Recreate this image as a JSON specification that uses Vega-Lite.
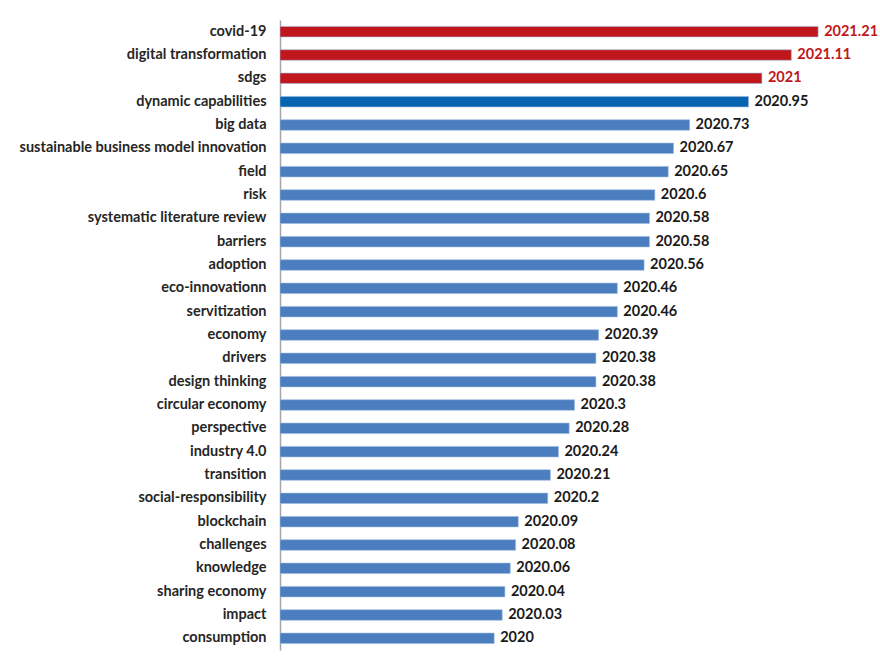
{
  "$schema": "https://vega.github.io/schema/vega-lite/v6.json",
  "autosize": "none",
  "width": 589,
  "height": 630,
  "padding": {"left": 280, "top": 20, "right": 11, "bottom": 14},
  "background": "white",
  "config": {"view": {"stroke": null}, "font": "Lato"},
  "data": {"values": [
    {"term": "covid-19", "year": 2021.21, "label": "2021.21", "group": "red"},
    {"term": "digital transformation", "year": 2021.11, "label": "2021.11", "group": "red"},
    {"term": "sdgs", "year": 2021.0, "label": "2021", "group": "red"},
    {"term": "dynamic capabilities", "year": 2020.95, "label": "2020.95", "group": "dark"},
    {"term": "big data", "year": 2020.73, "label": "2020.73", "group": "blue"},
    {"term": "sustainable business model innovation", "year": 2020.67, "label": "2020.67", "group": "blue"},
    {"term": "field", "year": 2020.65, "label": "2020.65", "group": "blue"},
    {"term": "risk", "year": 2020.6, "label": "2020.6", "group": "blue"},
    {"term": "systematic literature review", "year": 2020.58, "label": "2020.58", "group": "blue"},
    {"term": "barriers", "year": 2020.58, "label": "2020.58", "group": "blue"},
    {"term": "adoption", "year": 2020.56, "label": "2020.56", "group": "blue"},
    {"term": "eco-innovationn", "year": 2020.46, "label": "2020.46", "group": "blue"},
    {"term": "servitization", "year": 2020.46, "label": "2020.46", "group": "blue"},
    {"term": "economy", "year": 2020.39, "label": "2020.39", "group": "blue"},
    {"term": "drivers", "year": 2020.38, "label": "2020.38", "group": "blue"},
    {"term": "design thinking", "year": 2020.38, "label": "2020.38", "group": "blue"},
    {"term": "circular economy", "year": 2020.3, "label": "2020.3", "group": "blue"},
    {"term": "perspective", "year": 2020.28, "label": "2020.28", "group": "blue"},
    {"term": "industry 4.0", "year": 2020.24, "label": "2020.24", "group": "blue"},
    {"term": "transition", "year": 2020.21, "label": "2020.21", "group": "blue"},
    {"term": "social-responsibility", "year": 2020.2, "label": "2020.2", "group": "blue"},
    {"term": "blockchain", "year": 2020.09, "label": "2020.09", "group": "blue"},
    {"term": "challenges", "year": 2020.08, "label": "2020.08", "group": "blue"},
    {"term": "knowledge", "year": 2020.06, "label": "2020.06", "group": "blue"},
    {"term": "sharing economy", "year": 2020.04, "label": "2020.04", "group": "blue"},
    {"term": "impact", "year": 2020.03, "label": "2020.03", "group": "blue"},
    {"term": "consumption", "year": 2020.0, "label": "2020", "group": "blue"}
  ]},
  "encoding": {
    "y": {
      "field": "term", "type": "nominal", "sort": null,
      "scale": {"paddingInner": 0.55, "paddingOuter": 0.275},
      "axis": {"title": null, "ticks": false, "domainColor": "#A6A6A6", "domainWidth": 1.5,
               "labelFont": "Lato", "labelFontSize": 14.5, "labelFontWeight": "bold",
               "labelColor": "#262626", "labelPadding": 14, "labelLimit": 300}
    }
  },
  "layer": [
    {
      "mark": {"type": "bar", "clip": true, "stroke": "#9DB9E0", "strokeWidth": 0.6},
      "encoding": {
        "x": {"field": "year", "type": "quantitative",
              "scale": {"domain": [2019.2, 2021.4], "zero": false, "nice": false},
              "axis": null},
        "x2": {"datum": 2019.2},
        "color": {"field": "group", "type": "nominal", "legend": null,
                  "scale": {"domain": ["red", "dark", "blue"], "range": ["#C0171C", "#0563B0", "#4A7EBF"]}}
      }
    },
    {
      "mark": {"type": "text", "align": "left", "baseline": "middle", "dx": 6, "font": "Lato", "fontSize": 14.5, "fontWeight": "bold"},
      "encoding": {
        "x": {"field": "year", "type": "quantitative"},
        "text": {"field": "label", "type": "nominal"},
        "color": {"field": "group", "type": "nominal", "legend": null,
                  "scale": {"domain": ["red", "dark", "blue"], "range": ["#C0171C", "#1A1A1A", "#1A1A1A"]}}
      }
    }
  ],
  "resolve": {"scale": {"color": "independent"}}
}
